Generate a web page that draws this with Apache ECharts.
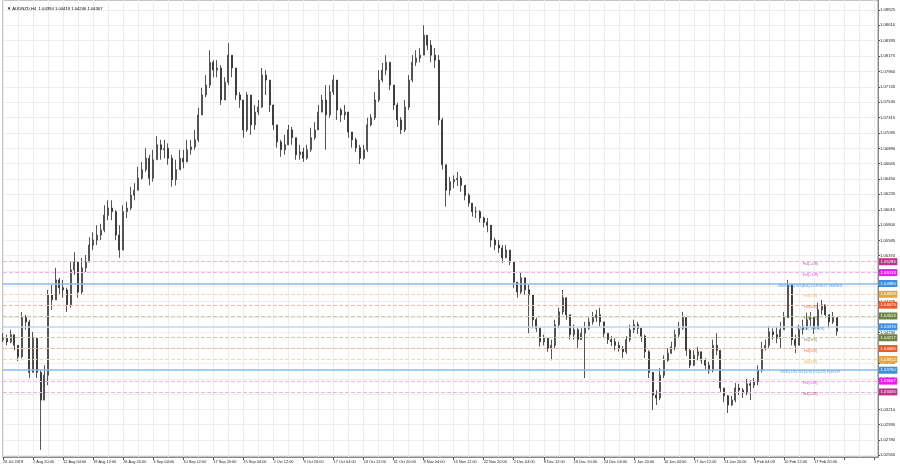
<!DOCTYPE html>
<html>
<head>
<meta charset="utf-8">
<script src="https://cdn.jsdelivr.net/npm/echarts@6/dist/echarts.min.js"></script>
<style>html,body{margin:0;padding:0;background:#fff}#c{width:900px;height:470px}</style>
</head>
<body>
<div id="c"></div>
<script>
// ---- data (each bar = 4 H4 candles) ----
const symbolName = 'AUDNZD,H4';
const lastCandle = [1.04394, 1.04419, 1.04246, 1.04307]; // O H L C of the last H4 candle
const firstOpen = 1.0419;
const closes = [
1.0421,1.0416,1.0426,1.0411,1.0395,1.0450,1.0444,1.0373,1.0421,1.0373,
1.0334,1.0369,1.0482,1.0475,1.0503,1.0492,1.0489,1.0468,1.0517,1.0528,
1.0486,1.0520,1.0528,1.0552,1.0559,1.0566,1.0573,1.0594,1.0604,1.0599,
1.0566,1.0545,1.0599,1.0604,1.0622,1.0629,1.0646,1.0658,1.0674,1.0646,
1.0672,1.0693,1.0686,1.0688,1.0674,1.0644,1.0658,1.0674,1.0669,1.0686,
1.0690,1.0700,1.0735,1.0763,1.0777,1.0809,1.0798,1.0801,1.0756,1.0781,
1.0819,1.0801,1.0763,1.0756,1.0714,1.0763,1.0721,1.0739,1.0746,1.0791,
1.0784,1.0749,1.0721,1.0697,1.0686,1.0693,1.0714,1.0703,1.0679,1.0683,
1.0674,1.0686,1.0703,1.0714,1.0739,1.0756,1.0735,1.0767,1.0784,1.0742,
1.0735,1.0739,1.0711,1.0700,1.0689,1.0674,1.0686,1.0721,1.0731,1.0756,
1.0784,1.0798,1.0809,1.0777,1.0749,1.0728,1.0714,1.0746,1.0784,1.0809,
1.0815,1.0819,1.0847,1.0833,1.0819,1.0812,1.0728,1.0665,1.0629,1.0641,
1.0644,1.0646,1.0636,1.0622,1.0611,1.0599,1.0599,1.0590,1.0584,1.0580,
1.0559,1.0552,1.0548,1.0534,1.0545,1.0528,1.0500,1.0486,1.0506,1.0489,
1.0482,1.0447,1.0435,1.0416,1.0421,1.0407,1.0411,1.0440,1.0458,1.0478,
1.0454,1.0426,1.0433,1.0419,1.0428,1.0435,1.0444,1.0450,1.0454,1.0444,
1.0428,1.0419,1.0416,1.0411,1.0407,1.0402,1.0419,1.0433,1.0440,1.0435,
1.0424,1.0402,1.0373,1.0341,1.0337,1.0369,1.0390,1.0400,1.0409,1.0426,
1.0435,1.0450,1.0404,1.0383,1.0397,1.0402,1.0390,1.0383,1.0376,1.0411,
1.0404,1.0351,1.0340,1.0327,1.0334,1.0351,1.0348,1.0344,1.0357,1.0355,
1.0360,1.0376,1.0407,1.0411,1.0430,1.0426,1.0421,1.0433,1.0450,1.0496,
1.0419,1.0411,1.0433,1.0438,1.0447,1.0450,1.0435,1.0461,1.0468,1.0454,
1.0444,1.0450,1.04307
];
const highs = [
1.0428,1.0426,1.0433,1.0426,1.0411,1.0458,1.0454,1.0447,1.0430,1.0419,
1.0376,1.0383,1.0489,1.0496,1.0520,1.0506,1.0503,1.0492,1.0528,1.0542,
1.0528,1.0534,1.0538,1.0563,1.0570,1.0580,1.0582,1.0608,1.0615,1.0615,
1.0601,1.0580,1.0608,1.0613,1.0634,1.0639,1.0662,1.0669,1.0688,1.0679,
1.0686,1.0705,1.0700,1.0700,1.0695,1.0679,1.0672,1.0686,1.0686,1.0700,
1.0700,1.0714,1.0745,1.0773,1.0791,1.0826,1.0812,1.0812,1.0805,1.0788,
1.0836,1.0815,1.0798,1.0767,1.0756,1.0767,1.0763,1.0749,1.0756,1.0801,
1.0798,1.0777,1.0749,1.0721,1.0700,1.0707,1.0721,1.0718,1.0700,1.0693,
1.0689,1.0693,1.0717,1.0725,1.0749,1.0763,1.0777,1.0777,1.0791,1.0784,
1.0745,1.0749,1.0739,1.0711,1.0703,1.0693,1.0693,1.0731,1.0736,1.0767,
1.0798,1.0808,1.0819,1.0809,1.0777,1.0752,1.0732,1.0756,1.0791,1.0819,
1.0826,1.0829,1.0861,1.0847,1.0840,1.0829,1.0819,1.0731,1.0665,1.0648,
1.0650,1.0655,1.0649,1.0636,1.0625,1.0608,1.0606,1.0601,1.0592,1.0590,
1.0580,1.0562,1.0559,1.0552,1.0552,1.0545,1.0528,1.0500,1.0514,1.0503,
1.0496,1.0468,1.0450,1.0435,1.0426,1.0419,1.0419,1.0447,1.0464,1.0489,
1.0478,1.0454,1.0440,1.0435,1.0435,1.0444,1.0450,1.0458,1.0461,1.0464,
1.0444,1.0426,1.0424,1.0421,1.0416,1.0410,1.0424,1.0440,1.0447,1.0444,
1.0435,1.0426,1.0404,1.0373,1.0348,1.0379,1.0397,1.0407,1.0416,1.0433,
1.0444,1.0458,1.0450,1.0407,1.0404,1.0409,1.0402,1.0393,1.0388,1.0419,
1.0428,1.0404,1.0348,1.0341,1.0340,1.0358,1.0357,1.0351,1.0364,1.0362,
1.0365,1.0383,1.0416,1.0419,1.0438,1.0435,1.0437,1.0444,1.0458,1.0503,
1.0493,1.0426,1.0440,1.0447,1.0457,1.0458,1.0447,1.0471,1.0475,1.0468,
1.0454,1.0458,1.04419
];
const lows = [
1.0416,1.0411,1.0414,1.0404,1.0389,1.0393,1.0433,1.0365,1.0373,1.0365,
1.0264,1.0345,1.0355,1.0461,1.0482,1.0482,1.0478,1.0458,1.0464,1.0510,
1.0478,1.0482,1.0514,1.0534,1.0545,1.0552,1.0559,1.0570,1.0587,1.0587,
1.0559,1.0534,1.0545,1.0590,1.0601,1.0615,1.0629,1.0644,1.0655,1.0636,
1.0641,1.0672,1.0672,1.0674,1.0665,1.0634,1.0636,1.0660,1.0660,1.0674,
1.0679,1.0686,1.0697,1.0735,1.0760,1.0773,1.0788,1.0788,1.0749,1.0756,
1.0777,1.0788,1.0756,1.0745,1.0703,1.0711,1.0707,1.0714,1.0735,1.0745,
1.0763,1.0739,1.0714,1.0689,1.0676,1.0679,1.0693,1.0693,1.0672,1.0672,
1.0669,1.0672,1.0683,1.0700,1.0714,1.0739,1.0686,1.0731,1.0763,1.0728,
1.0725,1.0728,1.0703,1.0689,1.0683,1.0666,1.0672,1.0683,1.0719,1.0728,
1.0753,1.0781,1.0791,1.0770,1.0742,1.0718,1.0708,1.0711,1.0742,1.0781,
1.0804,1.0809,1.0819,1.0826,1.0809,1.0801,1.0721,1.0658,1.0606,1.0622,
1.0632,1.0635,1.0627,1.0615,1.0606,1.0592,1.0590,1.0584,1.0577,1.0570,
1.0549,1.0545,1.0541,1.0527,1.0534,1.0524,1.0492,1.0478,1.0482,1.0482,
1.0428,1.0435,1.0430,1.0409,1.0411,1.0402,1.0390,1.0407,1.0435,1.0454,
1.0447,1.0419,1.0419,1.0407,1.0419,1.0365,1.0433,1.0440,1.0444,1.0438,
1.0421,1.0413,1.0410,1.0404,1.0402,1.0393,1.0399,1.0416,1.0428,1.0427,
1.0416,1.0393,1.0365,1.0320,1.0327,1.0334,1.0365,1.0388,1.0399,1.0404,
1.0421,1.0433,1.0396,1.0379,1.0382,1.0390,1.0385,1.0376,1.0371,1.0373,
1.0397,1.0345,1.0331,1.0316,1.0326,1.0331,1.0341,1.0337,1.0341,1.0334,
1.0351,1.0355,1.0373,1.0404,1.0407,1.0419,1.0414,1.0407,1.0435,1.0450,
1.0411,1.0400,1.0411,1.0426,1.0433,1.0437,1.0427,1.0435,1.0454,1.0450,
1.0435,1.0441,1.04246
];
const tickLabels = ['26 Jul 2019','2 Aug 20:00','12 Aug 04:00','19 Aug 12:00','26 Aug 20:00','3 Sep 04:00','10 Sep 12:00','17 Sep 20:00','25 Sep 04:00','2 Oct 12:00','9 Oct 20:00','17 Oct 04:00','24 Oct 12:00','31 Oct 20:00','8 Nov 04:00','15 Nov 12:00','22 Nov 20:00','2 Dec 04:00','9 Dec 12:00','16 Dec 20:00','24 Dec 04:00','2 Jan 20:00','10 Jan 04:00','17 Jan 12:00','24 Jan 20:00','3 Feb 04:00','10 Feb 12:00','17 Feb 20:00'];
const priceTicks = [1.08825,1.08610,1.08395,1.08175,1.07960,1.07745,1.07530,1.07315,1.07095,1.06880,1.06665,1.06450,1.06235,1.06015,1.05800,1.05585,1.05370,1.05155,1.04940,1.04725,1.04505,1.04290,1.04075,1.03860,1.03640,1.03425,1.03210,1.02995,1.02780,1.02565];
const levelValues = [1.05286,1.05133,1.04980,1.04828,1.04675,1.04523,1.04370,1.04217,1.04065,1.03912,1.03760,1.03607,1.03455];
const levelNames = ['H4[+2/8]','H4[+1/8]','MN1[4/8] W1[8/8] D1PIVOT H4RES','H4[7/8]','H4[6/8]','H4[5/8]','D1[1/8] W1[6/8]','H4[3/8]','H4[2/8]','H4[1/8]','MN1[1/8] W1[5/8] D1[2/8] H4SUP','H4[-1/8]','H4[-2/8]'];

// ---- styles ----
const C_PINK='#c2308a', C_MAG='#e322e3', C_BLUE='#3d8fe0', C_ORG='#efa43a', C_RED='#ec5a28', C_OLV='#6b8340';
const levelColors=[C_PINK,C_MAG,C_BLUE,C_ORG,C_RED,C_OLV,C_BLUE,C_OLV,C_RED,C_ORG,C_BLUE,C_MAG,C_PINK];
const lineColors=['#e8b3d6','#f0b3f0','#8dbbe8','#f5d6a6','#f3b8a0','#c5ceab','#bcd6f0','#c5ceab','#f3b8a0','#f5d6a6','#8dbbe8','#f0b3f0','#e8b3d6'];
const lineTypes=['dashed','dashed','solid','dashed','dashed','dashed','solid','dashed','dashed','dashed','solid','dashed','dashed'];
const lineWidths=[1,1,1.5,1,1,1,1.5,1,1,1,1.5,1,1];

const NCAT = 234;
const cats = Array.from({length:NCAT},(_,i)=>String(i));
const ohlc = closes.map((c,i)=>{
  const o = i ? closes[i-1] : firstOpen;
  const h = Math.max(highs[i],o,c), l = Math.min(lows[i],o,c);
  return [o,c,l,h];
});
const FS = 4.2;
const FF = '"Liberation Sans", Arial, sans-serif';
const boxLabel = (txt,bg)=>({show:true,position:'end',distance:1,formatter:txt,color:'#fff',backgroundColor:bg,padding:[1,1.6,1,1.6],fontSize:FS,fontFamily:FF,lineHeight:5});

const markData = levelValues.map((v,i)=>({
  yAxis:v,
  lineStyle:{color:lineColors[i],type:lineTypes[i],width:lineWidths[i],opacity:1},
  label:boxLabel(v.toFixed(5),levelColors[i])
}));
markData.push({
  yAxis:lastCandle[3],
  lineStyle:{color:'#000',width:0,opacity:0},
  label:boxLabel(lastCandle[3].toFixed(5),'#000')
});

const chart = echarts.init(document.getElementById('c'),null,{renderer:'canvas'});
chart.setOption({
  animation:false,
  backgroundColor:'#fff',
  title:{
    text:'▼ '+symbolName+'  '+lastCandle.map(v=>v.toFixed(5)).join(' '),
    left:2, top:2,
    textStyle:{fontSize:FS,fontWeight:'normal',color:'#000',fontFamily:FF}
  },
  grid:{left:1,top:0,width:877,height:457,show:true,borderColor:'#8a8a8a',borderWidth:1,backgroundColor:'#fff'},
  xAxis:{
    type:'category', data:cats, boundaryGap:false,
    axisLine:{show:true,lineStyle:{color:'#8a8a8a'}},
    axisTick:{show:true,length:3,interval:(i)=>i%8===0,lineStyle:{color:'#555'}},
    axisLabel:{show:true,interval:(i)=>i%8===0,formatter:(v,i)=>tickLabels[i/8]||'',align:'left',margin:3,fontSize:FS-0.3,color:'#222',fontFamily:FF},
    splitLine:{show:true,interval:(i)=>i%4===0,lineStyle:{color:'#ededed',width:1}}
  },
  yAxis:{
    type:'value', position:'right', min:1.0254, max:1.08966,
    axisLine:{show:true,lineStyle:{color:'#8a8a8a'}},
    axisTick:{show:true,length:2,customValues:priceTicks,lineStyle:{color:'#555'}},
    axisLabel:{show:true,customValues:priceTicks,formatter:(v)=>v.toFixed(5),margin:2,align:'left',fontSize:FS,color:'#222',fontFamily:FF},
    splitLine:{show:true,lineStyle:{color:'#ededed',width:1}}
  },
  series:[
    {
      type:'scatter', symbolSize:0, silent:true, clip:false, z:1, data:[],
      markLine:{silent:true,symbol:['none','none'],animation:false,precision:5,data:markData}
    },
    {
      type:'candlestick', data:ohlc, clip:false, barWidth:1.5, z:3,
      itemStyle:{color:'#ffffff',color0:'#2a2a2a',borderColor:'#2a2a2a',borderColor0:'#2a2a2a',borderWidth:0.8}
    },
    {
      type:'scatter', symbolSize:0, silent:true, clip:false, z:10,
      data:levelValues.map((v,i)=>({value:[215,v],label:{color:levelColors[i]}})),
      label:{show:true,position:[0,0],align:'center',verticalAlign:'middle',offset:[0,2],formatter:(p)=>levelNames[p.dataIndex],fontSize:FS-0.2,fontFamily:FF,textBorderWidth:0}
    }
  ]
});
</script>
</body>
</html>
